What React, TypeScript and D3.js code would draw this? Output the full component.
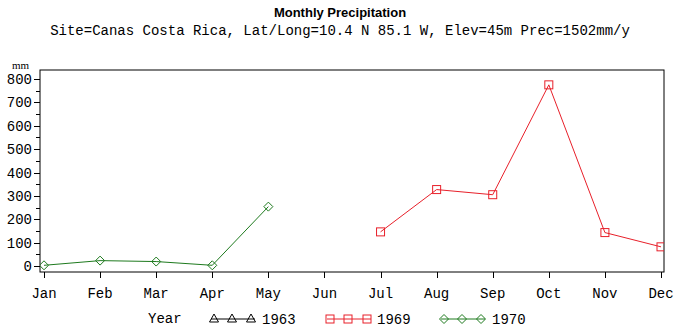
import React, { useEffect, useRef } from "react";
import * as d3 from "d3";

const months = ["Jan", "Feb", "Mar", "Apr", "May", "Jun", "Jul", "Aug", "Sep", "Oct", "Nov", "Dec"];
const yTicks = [0, 100, 200, 300, 400, 500, 600, 700, 800];
const years = ["1963", "1969", "1970"];
const prec1969Months = ["Jul", "Aug", "Sep", "Oct", "Nov", "Dec"];
const prec1969 = [146, 327, 305, 775, 143, 82];
const prec1970Months = ["Jan", "Feb", "Mar", "Apr", "May"];
const prec1970 = [3, 23, 19, 3, 254];

const W = 679, H = 334;
const mono = "'Liberation Mono', 'DejaVu Sans Mono', monospace";

export default function App() {
  const ref = useRef<SVGSVGElement>(null);
  useEffect(() => {
    const svg = d3.select(ref.current);
    svg.selectAll("*").remove();
    const fL = 40, fR = 664, fT = 70, fB = 272;
    const x = d3.scalePoint<string>().domain(months).range([44, 661]);
    const y = d3.scaleLinear().domain([0, 800]).range([266, 79]);

    svg.append("text").attr("x", 340).attr("y", 17).attr("text-anchor", "middle")
      .attr("font-family", "'Liberation Sans', Arial, sans-serif").attr("font-weight", "bold")
      .attr("font-size", 13).text("Monthly Precipitation");
    svg.append("text").attr("x", 340).attr("y", 35).attr("text-anchor", "middle")
      .attr("font-family", mono).attr("font-size", 14)
      .text("Site=Canas Costa Rica, Lat/Long=10.4 N 85.1 W, Elev=45m Prec=1502mm/y");
    svg.append("text").attr("x", 12).attr("y", 69).attr("font-family", "'Liberation Serif', serif")
      .attr("font-size", 11).text("mm");

    const clipId = "plotclip";
    svg.append("clipPath").attr("id", clipId).append("rect")
      .attr("x", fL).attr("y", fT).attr("width", fR - fL).attr("height", fB - fT);

    svg.append("rect").attr("x", fL).attr("y", fT).attr("width", fR - fL).attr("height", fB - fT)
      .attr("fill", "none").attr("stroke", "#000").attr("stroke-width", 1);

    const minor = d3.range(50, 800, 100);
    const g = svg.append("g").attr("shape-rendering", "crispEdges");
    yTicks.forEach(v => {
      g.append("line").attr("x1", fL - 6).attr("x2", fL).attr("y1", Math.round(y(v)) + 0.5).attr("y2", Math.round(y(v)) + 0.5).attr("stroke", "#000");
    });
    minor.forEach(v => {
      g.append("line").attr("x1", fL - 4).attr("x2", fL).attr("y1", Math.round(y(v)) + 0.5).attr("y2", Math.round(y(v)) + 0.5).attr("stroke", "#000");
    });
    yTicks.forEach(v => {
      svg.append("text").attr("x", fL - 8).attr("y", y(v) + 5).attr("text-anchor", "end")
        .attr("font-family", mono).attr("font-size", 14).text(String(v));
    });
    months.forEach(m => {
      const xx = Math.round(x(m)!) + 0.5;
      g.append("line").attr("x1", xx).attr("x2", xx).attr("y1", fB).attr("y2", fB + 6).attr("stroke", "#000");
      svg.append("text").attr("x", x(m)!).attr("y", 298).attr("text-anchor", "middle")
        .attr("font-family", mono).attr("font-size", 14).text(m);
    });

    const line = d3.line<[number, number]>().x(d => d[0]).y(d => d[1]);
    const plot = svg.append("g").attr("clip-path", `url(#${clipId})`);

    const pts69: [number, number][] = prec1969Months.map((m, i) => [x(m)!, y(prec1969[i])]);
    plot.append("path").attr("d", line(pts69)).attr("fill", "none").attr("stroke", "#e8202a").attr("stroke-width", 1);
    pts69.forEach(p => {
      plot.append("rect").attr("x", p[0] - 4).attr("y", p[1] - 4).attr("width", 8).attr("height", 8)
        .attr("fill", "none").attr("stroke", "#e8202a");
    });

    const pts70: [number, number][] = prec1970Months.map((m, i) => [x(m)!, y(prec1970[i])]);
    plot.append("path").attr("d", line(pts70)).attr("fill", "none").attr("stroke", "#1e7a1e").attr("stroke-width", 1);
    const diamond = (cx: number, cy: number, r: number) => `M${cx},${cy - r}L${cx + r},${cy}L${cx},${cy + r}L${cx - r},${cy}Z`;
    pts70.forEach(p => {
      plot.append("path").attr("d", diamond(p[0], p[1], 4.5)).attr("fill", "none").attr("stroke", "#1e7a1e");
    });

    const ly = 319;
    svg.append("text").attr("x", 148).attr("y", ly + 4).attr("font-family", mono).attr("font-size", 14).text("Year");
    const legendSpec = [
      { x0: 211, color: "#000", sym: "tri", tx: 262 },
      { x0: 327, color: "#e8202a", sym: "sq", tx: 377 },
      { x0: 441, color: "#1e7a1e", sym: "dia", tx: 492 },
    ];
    legendSpec.forEach((s, i) => {
      svg.append("line").attr("x1", s.x0).attr("x2", s.x0 + 44).attr("y1", ly).attr("y2", ly).attr("stroke", s.color);
      [3, 21, 40].forEach(dx => {
        const cx = s.x0 + dx;
        if (s.sym === "tri") {
          svg.append("path").attr("d", `M${cx},${ly - 5}L${cx + 4.5},${ly + 3}L${cx - 4.5},${ly + 3}Z`).attr("fill", "none").attr("stroke", s.color);
        } else if (s.sym === "sq") {
          svg.append("rect").attr("x", cx - 4).attr("y", ly - 4).attr("width", 8).attr("height", 8).attr("fill", "none").attr("stroke", s.color);
        } else {
          svg.append("path").attr("d", diamond(cx, ly, 4.5)).attr("fill", "none").attr("stroke", s.color);
        }
      });
      svg.append("text").attr("x", s.tx).attr("y", ly + 5).attr("font-family", mono).attr("font-size", 14).text(years[i]);
    });
  }, []);
  return <svg ref={ref} width={W} height={H} style={{ position: "absolute", left: 0, top: 0, background: "#fff" }} />;
}
